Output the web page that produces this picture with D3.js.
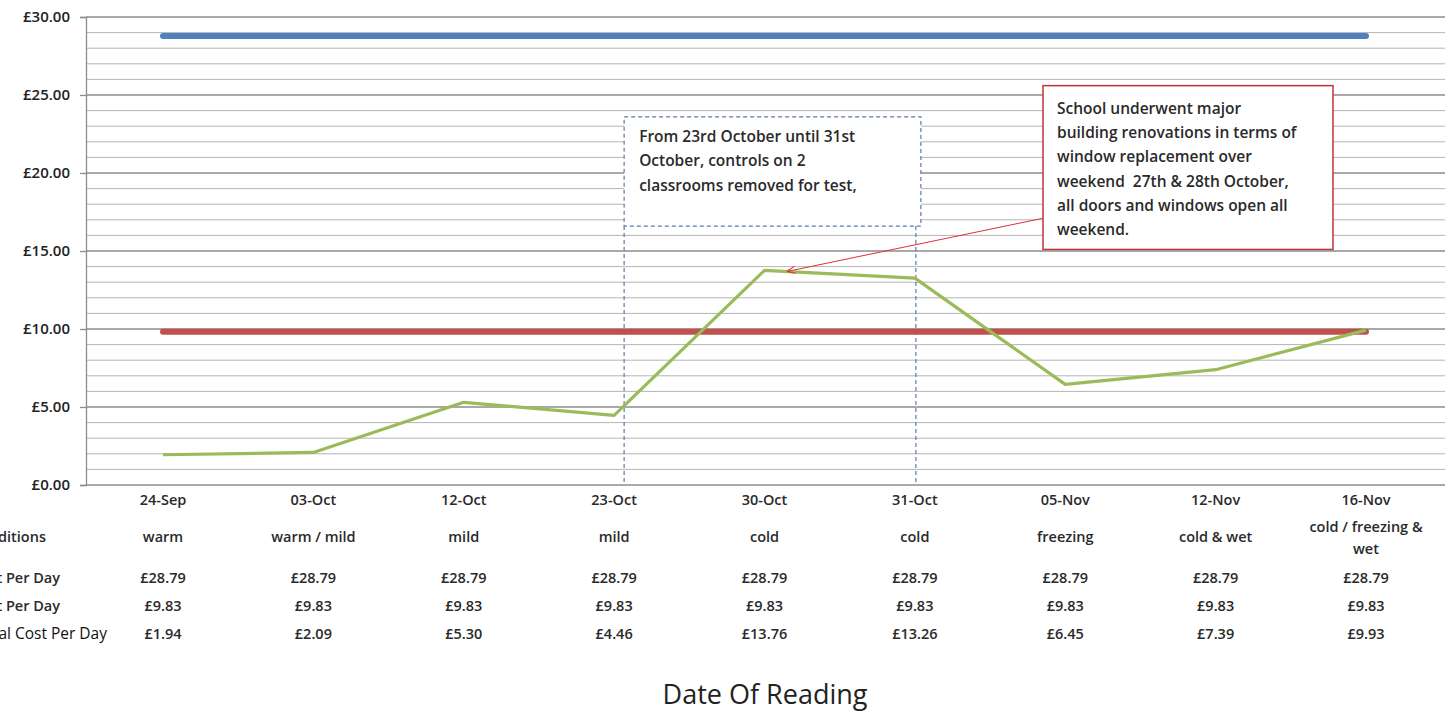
<!DOCTYPE html>
<html>
<head>
<meta charset="utf-8">
<script src="https://cdn.jsdelivr.net/npm/d3@7"></script>
<style>
  body { margin: 0; background: #fff; }
  svg text { font-family: "Open Sans", "Noto Sans", sans-serif; }
</style>
</head>
<body>
<svg id="chart" width="1451" height="714"></svg>
<script>
var dates = ["24-Sep", "03-Oct", "12-Oct", "23-Oct", "30-Oct", "31-Oct", "05-Nov", "12-Nov", "16-Nov"];
var conditions = ["warm", "warm / mild", "mild", "mild", "cold", "cold", "freezing", "cold & wet", "cold / freezing & wet"];
var maxCost = [28.79, 28.79, 28.79, 28.79, 28.79, 28.79, 28.79, 28.79, 28.79];
var targetCost = [9.83, 9.83, 9.83, 9.83, 9.83, 9.83, 9.83, 9.83, 9.83];
var actualCost = [1.94, 2.09, 5.30, 4.46, 13.76, 13.26, 6.45, 7.39, 9.93];
var yTicks = [0, 5, 10, 15, 20, 25, 30];
var rowLabels = ["Weather Conditions", "Maximum Cost Per Day", "Target Cost Per Day", "Actual Cost Per Day"];

var svg = d3.select("svg#chart");
var plotLeft = 86, plotRight = 1445, plotTop = 17, plotBottom = 485;

var x = d3.scalePoint().domain(dates).range([163, 1366]);
var y = d3.scaleLinear().domain([0, 30]).range([plotBottom, plotTop]);
var money = function(d) { return "£" + d.toFixed(2); };

// gridlines, one per pound
var minor = d3.range(1, 31);
svg.append("g").selectAll("line")
    .data(minor)
    .enter().append("line")
    .attr("x1", plotLeft).attr("x2", plotRight)
    .attr("y1", function(d) { return y(d); })
    .attr("y2", function(d) { return y(d); })
    .style("stroke", function(d) { return d % 5 == 0 ? "#8c8c8c" : "#b4b4b4"; })
    .style("stroke-width", function(d) { return d % 5 == 0 ? 1.3 : 1; });

// y axis
var yAxis = svg.append("g")
    .attr("transform", "translate(" + plotLeft + ",0)")
    .call(d3.axisLeft(y).tickValues(yTicks).tickFormat(money).tickSize(6).tickPadding(10));
yAxis.select(".domain").style("stroke", "#8c8c8c").style("stroke-width", 1.3);
yAxis.selectAll(".tick line").style("stroke", "#8c8c8c").style("stroke-width", 1.3);
yAxis.selectAll("text")
    .style("font-size", "15px").style("font-weight", 600).style("fill", "#222")
    .style("font-family", "'Open Sans', sans-serif");

// bottom axis line
svg.append("line")
    .attr("x1", plotLeft).attr("x2", plotRight)
    .attr("y1", plotBottom).attr("y2", plotBottom)
    .style("stroke", "#8c8c8c").style("stroke-width", 1.5);

// dashed test period box
var boxColor = "#5b7bae";
var bx0 = x("23-Oct") + 10, bx1 = x("31-Oct") + 6;
svg.append("rect")
    .attr("x", bx0).attr("y", y(23.6))
    .attr("width", bx1 - bx0).attr("height", y(16.6) - y(23.6))
    .attr("fill", "#fff")
    .style("stroke", boxColor).style("stroke-width", 1.2).style("stroke-dasharray", "4,3");
svg.append("line")
    .attr("x1", bx0).attr("x2", bx0).attr("y1", y(16.6)).attr("y2", plotBottom)
    .style("stroke", boxColor).style("stroke-width", 1.2).style("stroke-dasharray", "4,3");
svg.append("line")
    .attr("x1", x("31-Oct") + 1).attr("x2", x("31-Oct") + 1).attr("y1", y(16.6)).attr("y2", plotBottom)
    .style("stroke", boxColor).style("stroke-width", 1.2).style("stroke-dasharray", "4,3");
var boxText = ["From 23rd October until 31st", "October, controls on 2", "classrooms removed for test,"];
svg.append("g").selectAll("text")
    .data(boxText)
    .enter().append("text")
    .attr("x", bx0 + 15)
    .attr("y", function(d, i) { return y(23.6) + 25 + i * 24.5; })
    .text(function(d) { return d; })
    .style("font-size", "15.5px").style("font-weight", 600).style("fill", "#2a2a2a");

// series lines
var line = d3.line()
    .x(function(d, i) { return x(dates[i]); })
    .y(function(d) { return y(d); });

svg.append("path").datum(maxCost)
    .attr("d", line).attr("fill", "none")
    .style("stroke", "#4f81bd").style("stroke-width", 6).style("stroke-linecap", "round");
svg.append("path").datum(targetCost)
    .attr("d", line).attr("fill", "none")
    .style("stroke", "#c0504d").style("stroke-width", 6).style("stroke-linecap", "round");
svg.append("path").datum(actualCost)
    .attr("d", line).attr("fill", "none")
    .style("stroke", "#9bbb59").style("stroke-width", 3.2).style("stroke-linejoin", "round");

// renovation callout
var rx0 = 1043, rx1 = 1333;
svg.append("rect")
    .attr("x", rx0).attr("y", y(25.6))
    .attr("width", rx1 - rx0).attr("height", y(15.1) - y(25.6))
    .attr("fill", "#fff")
    .style("stroke", "#c0333a").style("stroke-width", 1.5);
var calloutText = ["School underwent major", "building renovations in terms of",
    "window replacement over", "weekend  27th & 28th October,",
    "all doors and windows open all", "weekend."];
svg.append("g").selectAll("text")
    .data(calloutText)
    .enter().append("text")
    .attr("x", rx0 + 14)
    .attr("y", function(d, i) { return y(25.6) + 28 + i * 24.3; })
    .attr("xml:space", "preserve")
    .style("white-space", "pre")
    .text(function(d) { return d; })
    .style("font-size", "15.5px").style("font-weight", 600).style("fill", "#2a2a2a");

svg.append("defs").append("marker")
    .attr("id", "arrow").attr("viewBox", "0 0 10 10")
    .attr("refX", 9).attr("refY", 5)
    .attr("markerWidth", 9).attr("markerHeight", 9)
    .attr("orient", "auto")
    .append("path").attr("d", "M10,5 L0,1 M10,5 L0,9")
    .attr("fill", "none").style("stroke", "#e0303a").style("stroke-width", 1.2);
svg.append("line")
    .attr("x1", rx0).attr("y1", y(17.1))
    .attr("x2", x("30-Oct") + 23).attr("y2", y(13.76) + 1)
    .style("stroke", "#e0303a").style("stroke-width", 1)
    .attr("marker-end", "url(#arrow)");

// data table under the axis
var tableFont = function(sel) {
  sel.style("font-size", "14.5px").style("font-weight", 600).style("fill", "#2a2a2a");
};
svg.append("g").selectAll("text")
    .data(dates).enter().append("text")
    .attr("x", function(d) { return x(d); }).attr("y", 505)
    .attr("text-anchor", "middle").text(function(d) { return d; })
    .call(tableFont);

svg.append("g").selectAll("text")
    .data(conditions).enter().append("text")
    .attr("x", function(d, i) { return x(dates[i]); })
    .attr("text-anchor", "middle")
    .each(function(d) {
      var t = d3.select(this);
      if (d.length > 16) {
        var parts = ["cold / freezing &", "wet"];
        t.append("tspan").attr("x", t.attr("x")).attr("y", 532).text(parts[0]);
        t.append("tspan").attr("x", t.attr("x")).attr("y", 554).text(parts[1]);
      } else {
        t.attr("y", 542).text(d);
      }
    })
    .call(tableFont);

var rows = [maxCost, targetCost, actualCost];
var rowY = [583, 611, 639];
rows.forEach(function(vals, r) {
  svg.append("g").selectAll("text")
      .data(vals).enter().append("text")
      .attr("x", function(d, i) { return x(dates[i]); })
      .attr("y", rowY[r])
      .attr("text-anchor", "middle")
      .text(money)
      .call(tableFont);
});

// row labels, cut off by the left edge like the original
svg.append("text").attr("x", 46).attr("y", 542).attr("text-anchor", "end")
    .text(rowLabels[0]).call(tableFont);
svg.append("text").attr("x", 60).attr("y", 583).attr("text-anchor", "end")
    .text(rowLabels[1]).call(tableFont);
svg.append("text").attr("x", 60).attr("y", 611).attr("text-anchor", "end")
    .text(rowLabels[2]).call(tableFont);
svg.append("text").attr("x", 107).attr("y", 639).attr("text-anchor", "end")
    .text(rowLabels[3])
    .style("font-size", "15.5px").style("fill", "#111");

// axis title
svg.append("text")
    .attr("x", 765).attr("y", 704)
    .attr("text-anchor", "middle")
    .text("Date Of Reading")
    .style("font-size", "27px").style("fill", "#222");
</script>
</body>
</html>
